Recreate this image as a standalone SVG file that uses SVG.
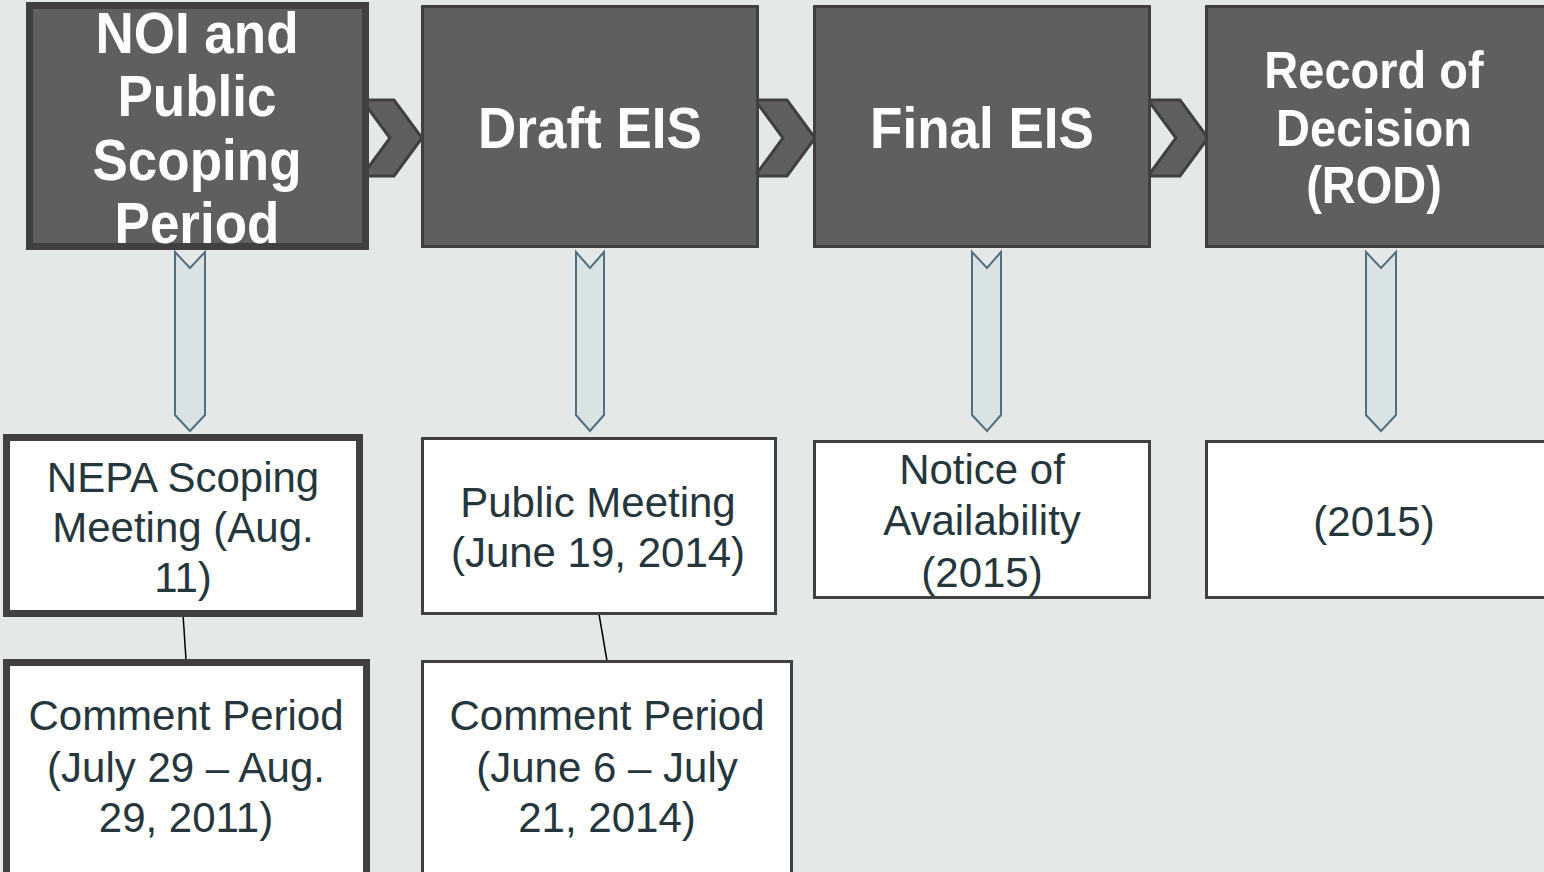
<svg xmlns="http://www.w3.org/2000/svg" width="1544" height="872" viewBox="0 0 1544 872">
<style>
.top{fill:#5f5f5f;stroke:#404040;stroke-width:3}
.low{fill:#ffffff;stroke:#404040;stroke-width:3}
.thick{stroke-width:7}
.chev{fill:#5f5f5f;stroke:#404040;stroke-width:3;stroke-linejoin:miter}
.down{fill:#d9e3e4;stroke:#536f7f;stroke-width:2}
.link{stroke:#000;stroke-width:1.5;fill:none}
.tt{font-family:"Liberation Sans",Arial,sans-serif;font-weight:bold;fill:#ffffff;text-anchor:middle}
.bt{font-family:"Liberation Sans",Arial,sans-serif;font-size:42px;fill:#25363d;text-anchor:middle}
</style>
<rect x="0" y="0" width="1544" height="872" fill="#e4e9e8"/>
<g id="connectors">
<polygon class="chev" points="362,100 394,100 422,138 394,176 362,176 390,138"/>
<polygon class="chev" points="755,100 787,100 815,138 787,176 755,176 783,138"/>
<polygon class="chev" points="1148,100 1180,100 1208,138 1180,176 1148,176 1176,138"/>
<polygon class="down" points="175,252 190,268 205,252 205,415 190,431 175,415"/>
<polygon class="down" points="576,252 590,268 604,252 604,415 590,431 576,415"/>
<polygon class="down" points="972,252 987,268 1001,252 1001,415 987,431 972,415"/>
<polygon class="down" points="1366,252 1381,268 1396,252 1396,415 1381,431 1366,415"/>
<line class="link" x1="183" y1="614" x2="186" y2="660"/>
<line class="link" x1="599" y1="614" x2="607" y2="661"/>
</g>
<g id="noi">
<rect class="top thick" x="29.5" y="5.5" width="336" height="241"/>
<text class="tt" font-size="53" transform="translate(197,53) scale(1,1.08)">NOI and</text>
<text class="tt" font-size="53" transform="translate(197,116) scale(1,1.08)">Public</text>
<text class="tt" font-size="53" transform="translate(197,180) scale(1,1.08)">Scoping</text>
<text class="tt" font-size="53" transform="translate(197,243) scale(1,1.08)">Period</text>
</g>
<g id="draft">
<rect class="top" x="422.5" y="6.5" width="335" height="240"/>
<text class="tt" font-size="53" transform="translate(590,148) scale(1,1.08)">Draft EIS</text>
</g>
<g id="final">
<rect class="top" x="814.5" y="6.5" width="335" height="240"/>
<text class="tt" font-size="53" transform="translate(982,148) scale(1,1.08)">Final EIS</text>
</g>
<g id="rod">
<rect class="top" x="1206.5" y="6.5" width="342" height="240"/>
<text class="tt" font-size="47" transform="translate(1374,88) scale(1,1.12)">Record of</text>
<text class="tt" font-size="47" transform="translate(1374,146) scale(1,1.12)">Decision</text>
<text class="tt" font-size="47" transform="translate(1374,203) scale(1,1.12)">(ROD)</text>
</g>
<g id="nepa">
<rect class="low thick" x="6.5" y="437.5" width="353" height="176"/>
<text class="bt" x="183" y="492">NEPA Scoping</text>
<text class="bt" x="183" y="542">Meeting (Aug.</text>
<text class="bt" x="183" y="592">11)</text>
</g>
<g id="comment1">
<rect class="low thick" x="6.5" y="662.5" width="360" height="216"/>
<text class="bt" x="186" y="730">Comment Period</text>
<text class="bt" x="186" y="782">(July 29 – Aug.</text>
<text class="bt" x="186" y="832">29, 2011)</text>
</g>
<g id="public">
<rect class="low" x="422.5" y="438.5" width="353" height="175"/>
<text class="bt" x="598" y="517">Public Meeting</text>
<text class="bt" x="598" y="567">(June 19, 2014)</text>
</g>
<g id="comment2">
<rect class="low" x="422.5" y="661.5" width="369" height="216"/>
<text class="bt" x="607" y="730">Comment Period</text>
<text class="bt" x="607" y="782">(June 6 – July</text>
<text class="bt" x="607" y="832">21, 2014)</text>
</g>
<g id="noa">
<rect class="low" x="814.5" y="441.5" width="335" height="156"/>
<text class="bt" x="982" y="484">Notice of</text>
<text class="bt" x="982" y="535">Availability</text>
<text class="bt" x="982" y="587">(2015)</text>
</g>
<g id="rod2015">
<rect class="low" x="1206.5" y="441.5" width="342" height="156"/>
<text class="bt" x="1374" y="536">(2015)</text>
</g>
</svg>
